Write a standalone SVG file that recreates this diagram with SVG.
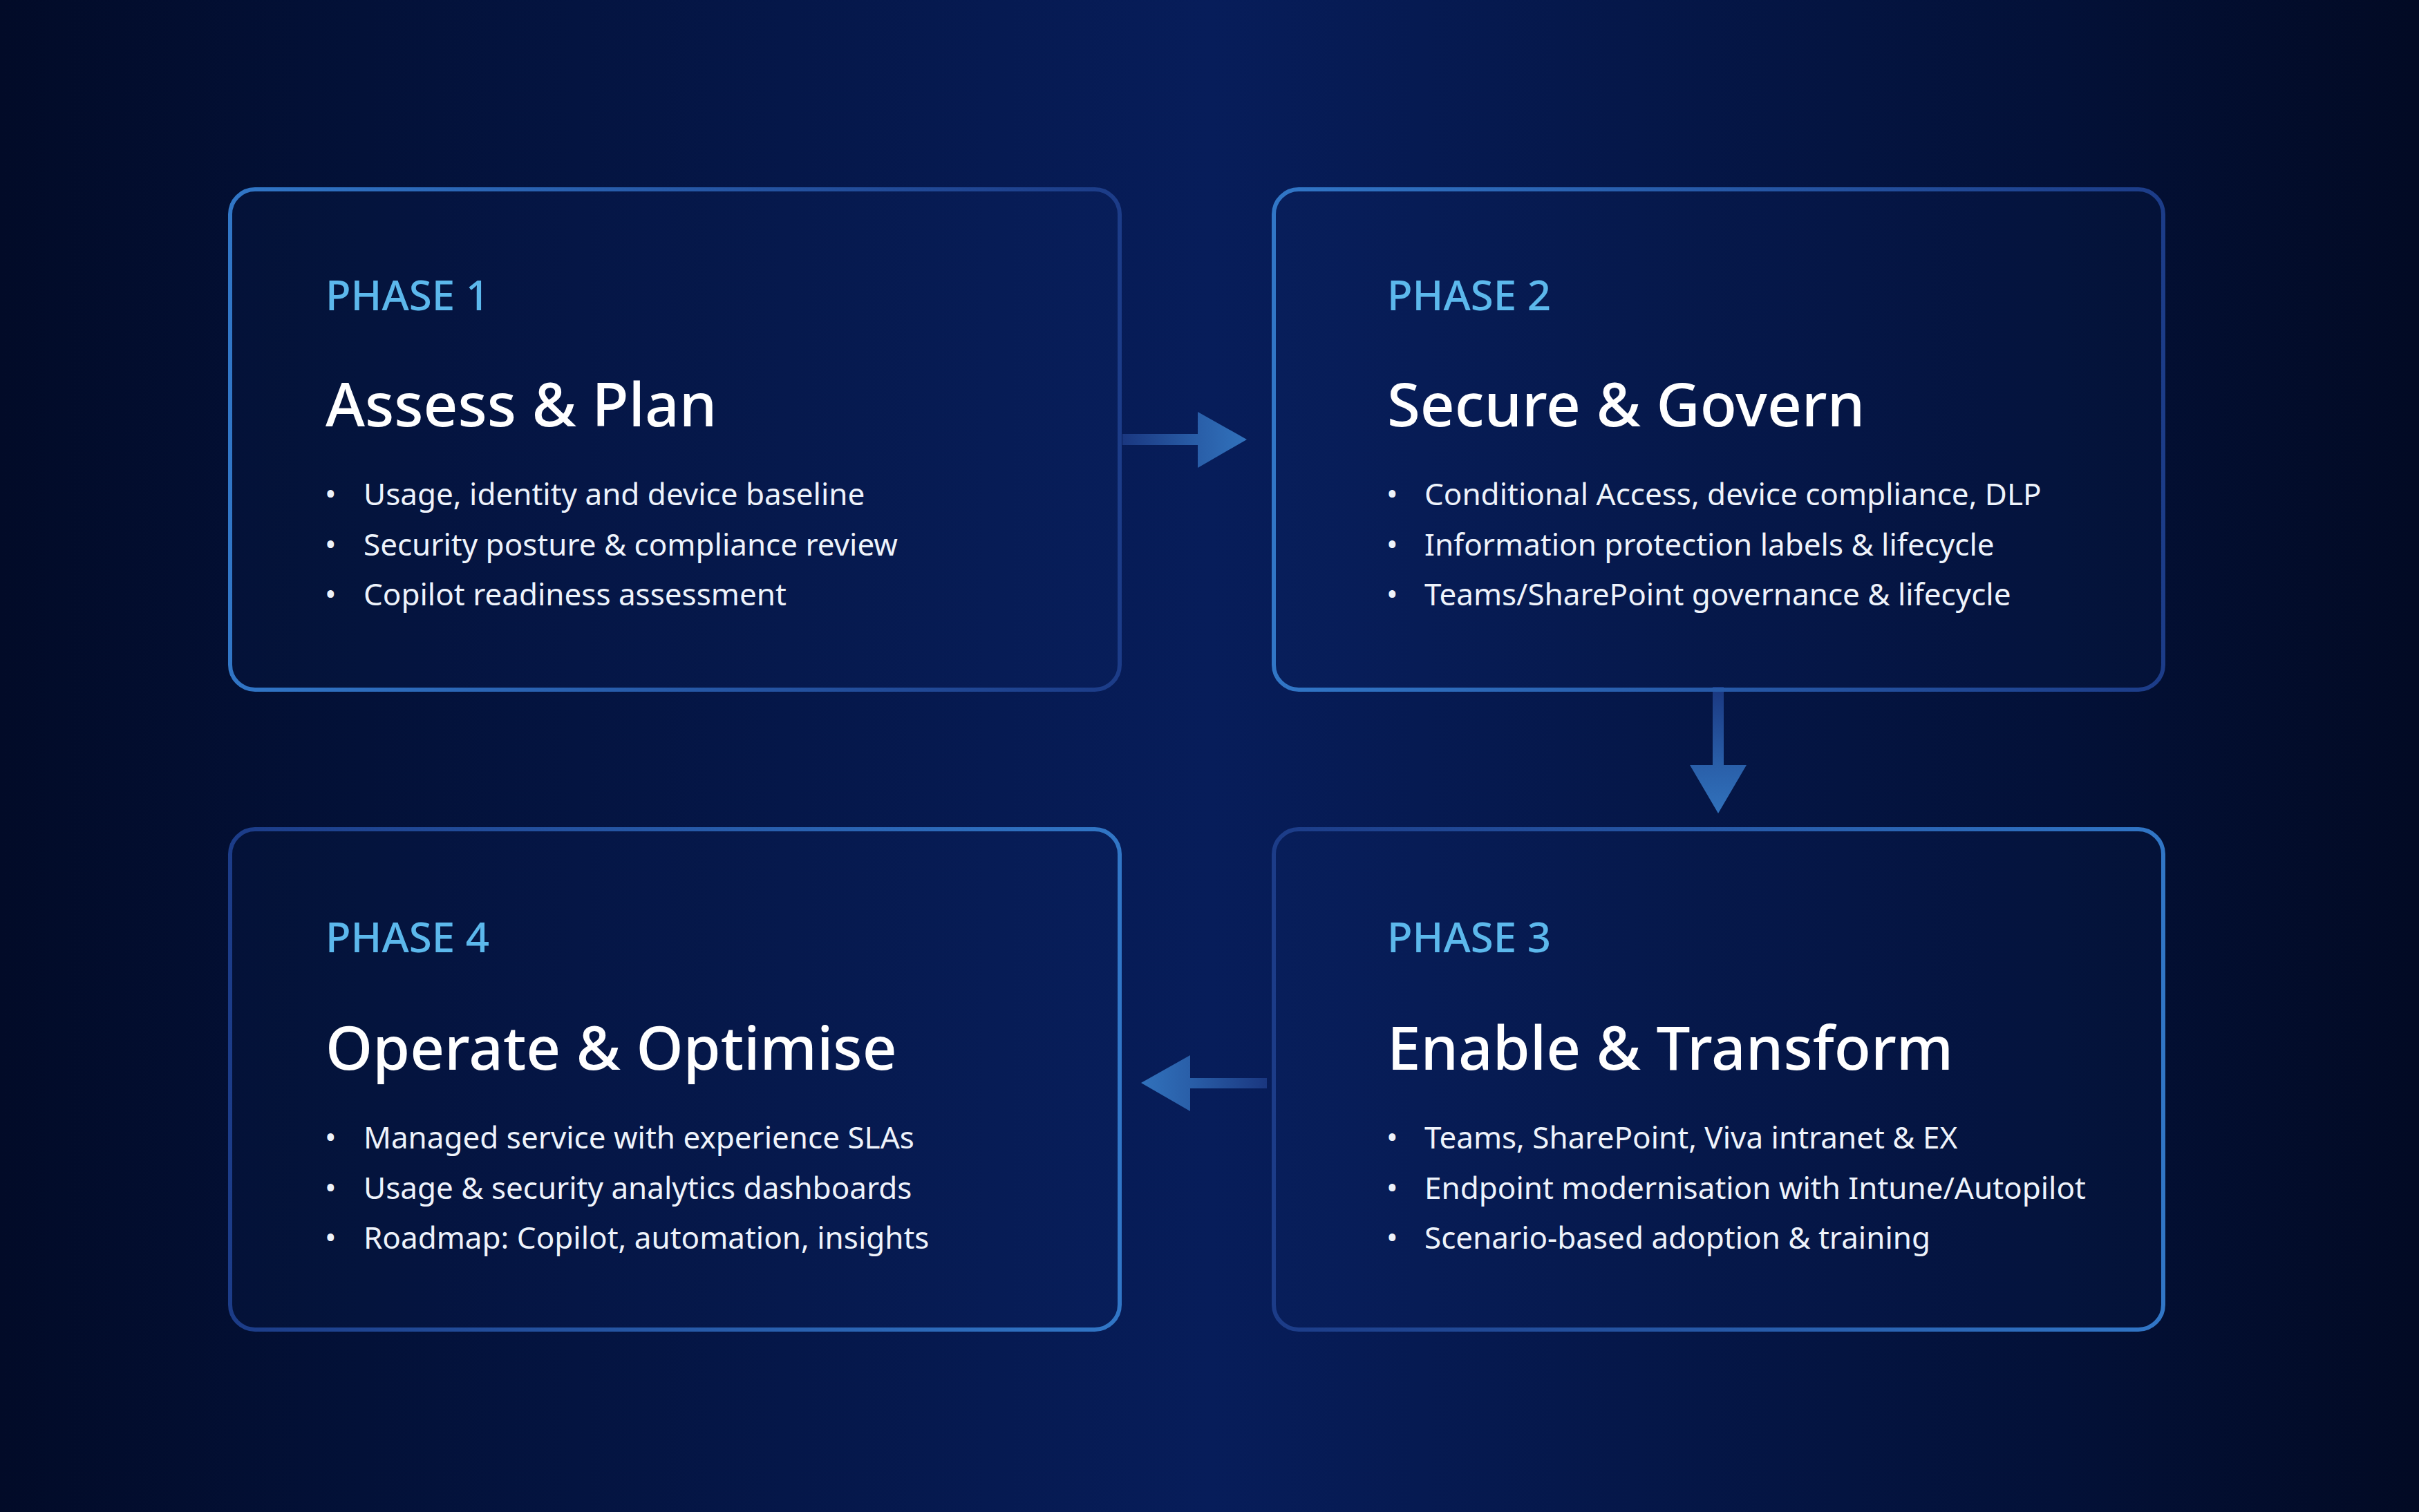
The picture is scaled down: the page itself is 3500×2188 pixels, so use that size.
<svg xmlns="http://www.w3.org/2000/svg" width="3500" height="2188" viewBox="0 0 3500 2188">
  <defs>
    <linearGradient id="bg" x1="0" y1="0" x2="1" y2="0">
      <stop offset="0" stop-color="#020b28"/>
      <stop offset="0.15" stop-color="#031138"/>
      <stop offset="0.5" stop-color="#071d5a"/>
      <stop offset="0.85" stop-color="#031138"/>
      <stop offset="1" stop-color="#020a24"/>
    </linearGradient>
    <linearGradient id="strokeTop" x1="0" y1="0" x2="1" y2="0">
      <stop offset="0" stop-color="#3176c6"/>
      <stop offset="1" stop-color="#1c3c88"/>
    </linearGradient>
    <linearGradient id="strokeBottom" x1="0" y1="0" x2="1" y2="0">
      <stop offset="0" stop-color="#1c3c88"/>
      <stop offset="1" stop-color="#3176c6"/>
    </linearGradient>
    <linearGradient id="arrowRight" gradientUnits="userSpaceOnUse" x1="1624" y1="0" x2="1804" y2="0">
      <stop offset="0" stop-color="#1a3780"/>
      <stop offset="0.6" stop-color="#295ea8"/>
      <stop offset="1" stop-color="#3172bc"/>
    </linearGradient>
    <linearGradient id="arrowDown" gradientUnits="userSpaceOnUse" x1="0" y1="994" x2="0" y2="1177">
      <stop offset="0" stop-color="#1a3780"/>
      <stop offset="0.6" stop-color="#295ea8"/>
      <stop offset="1" stop-color="#3172bc"/>
    </linearGradient>
    <linearGradient id="arrowLeft" gradientUnits="userSpaceOnUse" x1="1833" y1="0" x2="1651" y2="0">
      <stop offset="0" stop-color="#1a3780"/>
      <stop offset="0.6" stop-color="#295ea8"/>
      <stop offset="1" stop-color="#3172bc"/>
    </linearGradient>
  </defs>
  <style>
    .card { fill: #1a3c96; fill-opacity: 0.06; stroke-width: 6; }
    .top { stroke: url(#strokeTop); }
    .bottom { stroke: url(#strokeBottom); }
    text { font-family: "Noto Sans", "Open Sans", "Liberation Sans", sans-serif; }
    .phase { font-size: 60px; font-weight: 500; fill: #5cb8ec; }
    .title { font-size: 87px; font-weight: 500; fill: #ffffff; }
    .item { font-size: 44px; fill: #eef3fb; }
  </style>

  <rect x="0" y="0" width="3500" height="2188" fill="url(#bg)"/>

  <g id="connectors">
    <path d="M1624 628 H1733 V596 L1804 636 L1733 677 V644 H1624 Z" fill="url(#arrowRight)"/>
    <path d="M2478 994 V1107 H2445 L2486 1177 L2527 1107 H2494 V994 Z" fill="url(#arrowDown)"/>
    <path d="M1833 1560 H1722 V1527 L1651 1567 L1722 1608 V1575 H1833 Z" fill="url(#arrowLeft)"/>
  </g>

  <g id="phase1">
    <rect class="card top" x="333" y="274" width="1287" height="724" rx="36" ry="36"/>
    <text class="phase" x="471" y="449">PHASE 1</text>
    <text class="title" x="471" y="617">Assess &amp; Plan</text>
    <text class="item" x="470" y="731">•</text>
    <text class="item" x="526" y="731">Usage, identity and device baseline</text>
    <text class="item" x="470" y="803.5">•</text>
    <text class="item" x="526" y="803.5">Security posture &amp; compliance review</text>
    <text class="item" x="470" y="876">•</text>
    <text class="item" x="526" y="876">Copilot readiness assessment</text>
  </g>

  <g id="phase2">
    <rect class="card top" x="1843" y="274" width="1287" height="724" rx="36" ry="36"/>
    <text class="phase" x="2007" y="449">PHASE 2</text>
    <text class="title" x="2007" y="617">Secure &amp; Govern</text>
    <text class="item" x="2006" y="731">•</text>
    <text class="item" x="2061" y="731">Conditional Access, device compliance, DLP</text>
    <text class="item" x="2006" y="803.5">•</text>
    <text class="item" x="2061" y="803.5">Information protection labels &amp; lifecycle</text>
    <text class="item" x="2006" y="876">•</text>
    <text class="item" x="2061" y="876">Teams/SharePoint governance &amp; lifecycle</text>
  </g>

  <g id="phase3">
    <rect class="card bottom" x="1843" y="1200" width="1287" height="724" rx="36" ry="36"/>
    <text class="phase" x="2007" y="1378">PHASE 3</text>
    <text class="title" x="2007" y="1548">Enable &amp; Transform</text>
    <text class="item" x="2006" y="1662">•</text>
    <text class="item" x="2061" y="1662">Teams, SharePoint, Viva intranet &amp; EX</text>
    <text class="item" x="2006" y="1734.5">•</text>
    <text class="item" x="2061" y="1734.5">Endpoint modernisation with Intune/Autopilot</text>
    <text class="item" x="2006" y="1807">•</text>
    <text class="item" x="2061" y="1807">Scenario-based adoption &amp; training</text>
  </g>

  <g id="phase4">
    <rect class="card bottom" x="333" y="1200" width="1287" height="724" rx="36" ry="36"/>
    <text class="phase" x="471" y="1378">PHASE 4</text>
    <text class="title" x="471" y="1548">Operate &amp; Optimise</text>
    <text class="item" x="470" y="1662">•</text>
    <text class="item" x="526" y="1662">Managed service with experience SLAs</text>
    <text class="item" x="470" y="1734.5">•</text>
    <text class="item" x="526" y="1734.5">Usage &amp; security analytics dashboards</text>
    <text class="item" x="470" y="1807">•</text>
    <text class="item" x="526" y="1807">Roadmap: Copilot, automation, insights</text>
  </g>
</svg>
